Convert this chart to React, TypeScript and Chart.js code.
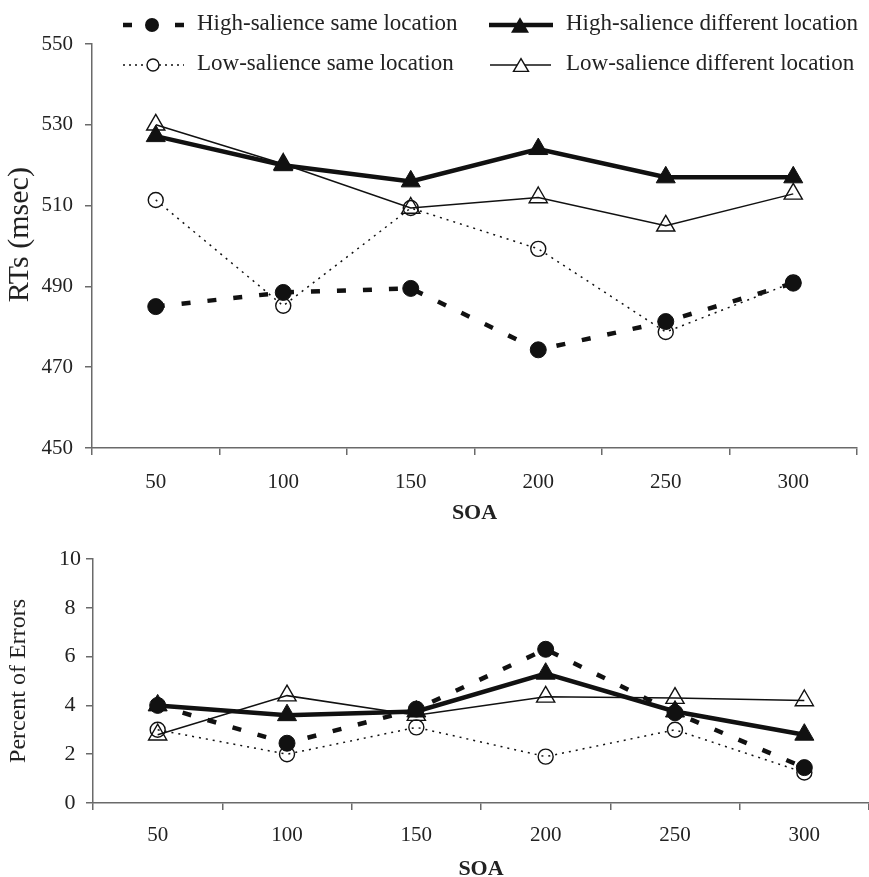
import React, { useEffect, useRef } from 'react';
import { Chart, registerables } from 'chart.js';

Chart.register(...registerables);

// ---------- data ----------
const soaLabels = ['50', '100', '150', '200', '250', '300'];

const seriesNames = [
  'High-salience same location',
  'High-salience different location',
  'Low-salience same location',
  'Low-salience different location',
];

// RTs (msec)
const rtHighSame = [485, 488.5, 489.5, 474.3, 481.3, 490.8];
const rtHighDiff = [527.2, 520, 516, 524, 517, 517];
const rtLowSame = [511.4, 485.2, 509.4, 499.3, 478.7, 491];
const rtLowDiff = [530, 520.3, 509.4, 512, 505, 512.9];

// Percent of errors
const errHighSame = [4.0, 2.45, 3.85, 6.3, 3.7, 1.45];
const errHighDiff = [4.0, 3.6, 3.75, 5.3, 3.75, 2.8];
const errLowSame = [3.0, 2.0, 3.1, 1.9, 3.0, 1.25];
const errLowDiff = [2.8, 4.4, 3.6, 4.35, 4.3, 4.2];

const rtTicks = { min: 450, max: 550, step: 20 };
const errTicks = { min: 0, max: 10, step: 2 };

// ---------- styles ----------
const FONT = '"Liberation Serif", "Times New Roman", Times, serif';
const INK = '#111111';
const TXT = '#222222';
const AXIS = '#6a6a6a';

const seriesStyles = [
  { width: 4.5, dash: [9, 17], shape: 'circle', radius: 8, filled: true },
  { width: 4.5, dash: [] as number[], shape: 'triangle', radius: 11, filled: true },
  { width: 1.5, dash: [2, 5], shape: 'circle', radius: 7.5, filled: false },
  { width: 1.5, dash: [] as number[], shape: 'triangle', radius: 10.5, filled: false },
];

function makeDatasets(values: number[][]) {
  return values.map((data, i) => {
    const s = seriesStyles[i];
    return {
      label: seriesNames[i],
      data,
      borderColor: INK,
      borderWidth: s.width,
      borderDash: s.dash,
      tension: 0,
      fill: false,
      pointStyle: s.shape,
      pointRadius: s.radius,
      pointHoverRadius: s.radius,
      pointBackgroundColor: s.filled ? INK : 'rgba(0,0,0,0)',
      pointBorderColor: INK,
      pointBorderWidth: s.filled ? 1 : 1.4,
    };
  });
}

// legend drawn on the top chart
const legendLayout = [
  { ds: 0, x1: 123, x2: 184, mx: 152, y: 25, tx: 197, mr: 7 },
  { ds: 1, x1: 489, x2: 553, mx: 520, y: 25, tx: 566, mr: 9 },
  { ds: 2, x1: 123, x2: 184, mx: 153, y: 65, tx: 197, mr: 6 },
  { ds: 3, x1: 490, x2: 551, mx: 521, y: 65, tx: 566, mr: 7.5 },
];

const legendPlugin = {
  id: 'pairLegend',
  afterDraw(chart: any) {
    const ctx = chart.ctx as CanvasRenderingContext2D;
    legendLayout.forEach((it) => {
      const s = seriesStyles[it.ds];
      ctx.save();
      ctx.strokeStyle = INK;
      ctx.lineWidth = s.width === 1.5 ? 1.5 : 4.5;
      ctx.setLineDash(it.ds === 2 ? [2, 4] : s.dash);
      ctx.beginPath();
      ctx.moveTo(it.x1, it.y);
      ctx.lineTo(it.x2, it.y);
      ctx.stroke();
      ctx.setLineDash([]);
      ctx.lineWidth = 1.4;
      ctx.fillStyle = INK;
      ctx.beginPath();
      if (s.shape === 'circle') {
        ctx.arc(it.mx, it.y, it.mr, 0, Math.PI * 2);
      } else {
        const hw = it.mr;
        const h = hw * 1.7;
        ctx.moveTo(it.mx, it.y - h / 2);
        ctx.lineTo(it.mx + hw, it.y + h / 2);
        ctx.lineTo(it.mx - hw, it.y + h / 2);
        ctx.closePath();
      }
      if (s.filled) {
        ctx.fill();
      } else {
        ctx.fillStyle = '#ffffff';
        ctx.fill();
        ctx.stroke();
      }
      ctx.fillStyle = TXT;
      ctx.font = `23px ${FONT}`;
      ctx.textBaseline = 'middle';
      ctx.textAlign = 'left';
      ctx.fillText(seriesNames[it.ds], it.tx, it.y - 1);
      ctx.restore();
    });
  },
};

function makeOptions(p: {
  top: number;
  right: number;
  yWidth: number;
  xHeight: number;
  yMin: number;
  yMax: number;
  yStep: number;
  yTitle: string;
  yTitleSize: number;
  yTitlePad: number;
  yTickSize: number;
  yTickPad: number;
  yCross: string;
  xTickPad: number;
  xTitlePad: number;
  tickSize: number;
}) {
  return {
    animation: false,
    responsive: false,
    events: [],
    layout: { autoPadding: false, padding: { top: p.top, right: p.right, left: 0, bottom: 0 } },
    plugins: { legend: { display: false }, tooltip: { enabled: false } },
    scales: {
      x: {
        type: 'category',
        offset: true,
        grid: {
          offset: true,
          drawOnChartArea: false,
          drawTicks: true,
          tickLength: 7,
          color: AXIS,
          lineWidth: 1.5,
        },
        border: { display: true, color: AXIS, width: 1.5 },
        ticks: {
          font: { family: FONT, size: p.tickSize },
          color: TXT,
          padding: p.xTickPad,
          maxRotation: 0,
          autoSkip: false,
        },
        title: {
          display: true,
          text: 'SOA',
          color: TXT,
          font: { family: FONT, size: 22, weight: 'bold' },
          padding: { top: 0, bottom: p.xTitlePad },
        },
        afterFit: (s: any) => {
          s.height = p.xHeight;
        },
      },
      y: {
        min: p.yMin,
        max: p.yMax,
        grid: {
          drawOnChartArea: false,
          drawTicks: true,
          tickLength: 7,
          color: AXIS,
          lineWidth: 1.5,
        },
        border: { display: true, color: AXIS, width: 1.5 },
        ticks: {
          stepSize: p.yStep,
          font: { family: FONT, size: p.yTickSize },
          color: TXT,
          padding: p.yTickPad,
          crossAlign: p.yCross,
        },
        title: {
          display: true,
          text: p.yTitle,
          color: TXT,
          font: { family: FONT, size: p.yTitleSize },
          padding: { top: p.yTitlePad, bottom: 0 },
        },
        afterFit: (s: any) => {
          s.width = p.yWidth;
        },
      },
    },
  };
}

export default function App() {
  const topRef = useRef<HTMLCanvasElement>(null);
  const botRef = useRef<HTMLCanvasElement>(null);

  useEffect(() => {
    const top = new Chart(topRef.current as HTMLCanvasElement, {
      type: 'line',
      data: {
        labels: soaLabels,
        datasets: makeDatasets([rtHighSame, rtHighDiff, rtLowSame, rtLowDiff]) as any,
      },
      options: makeOptions({
        top: 44,
        right: 12,
        yWidth: 92,
        xHeight: 82,
        yMin: rtTicks.min,
        yMax: rtTicks.max,
        yStep: rtTicks.step,
        yTitle: '   RTs (msec)',
        yTitleSize: 30,
        yTitlePad: 2,
        yTickSize: 21,
        yTickPad: 12,
        yCross: 'near',
        xTickPad: 15,
        xTitlePad: 3,
        tickSize: 21,
      }) as any,
      plugins: [legendPlugin],
    });
    const bot = new Chart(botRef.current as HTMLCanvasElement, {
      type: 'line',
      data: {
        labels: soaLabels,
        datasets: makeDatasets([errHighSame, errHighDiff, errLowSame, errLowDiff]) as any,
      },
      options: makeOptions({
        top: 29,
        right: 0,
        yWidth: 93,
        xHeight: 87,
        yMin: errTicks.min,
        yMax: errTicks.max,
        yStep: errTicks.step,
        yTitle: 'Percent of Errors',
        yTitleSize: 24,
        yTitlePad: 4,
        yTickSize: 22,
        yTickPad: 5,
        yCross: 'center',
        xTickPad: 13,
        xTitlePad: 7,
        tickSize: 21,
      }) as any,
    });
    return () => {
      top.destroy();
      bot.destroy();
    };
  }, []);

  return (
    <div
      style={{
        position: 'fixed',
        left: 0,
        top: 0,
        width: 869,
        height: 877,
        overflow: 'hidden',
        background: '#ffffff',
      }}
    >
      <canvas
        ref={topRef}
        width={869}
        height={530}
        style={{ position: 'absolute', left: 0, top: 0, width: 869, height: 530 }}
      />
      <canvas
        ref={botRef}
        width={869}
        height={360}
        style={{ position: 'absolute', left: 0, top: 530, width: 869, height: 360 }}
      />
    </div>
  );
}
